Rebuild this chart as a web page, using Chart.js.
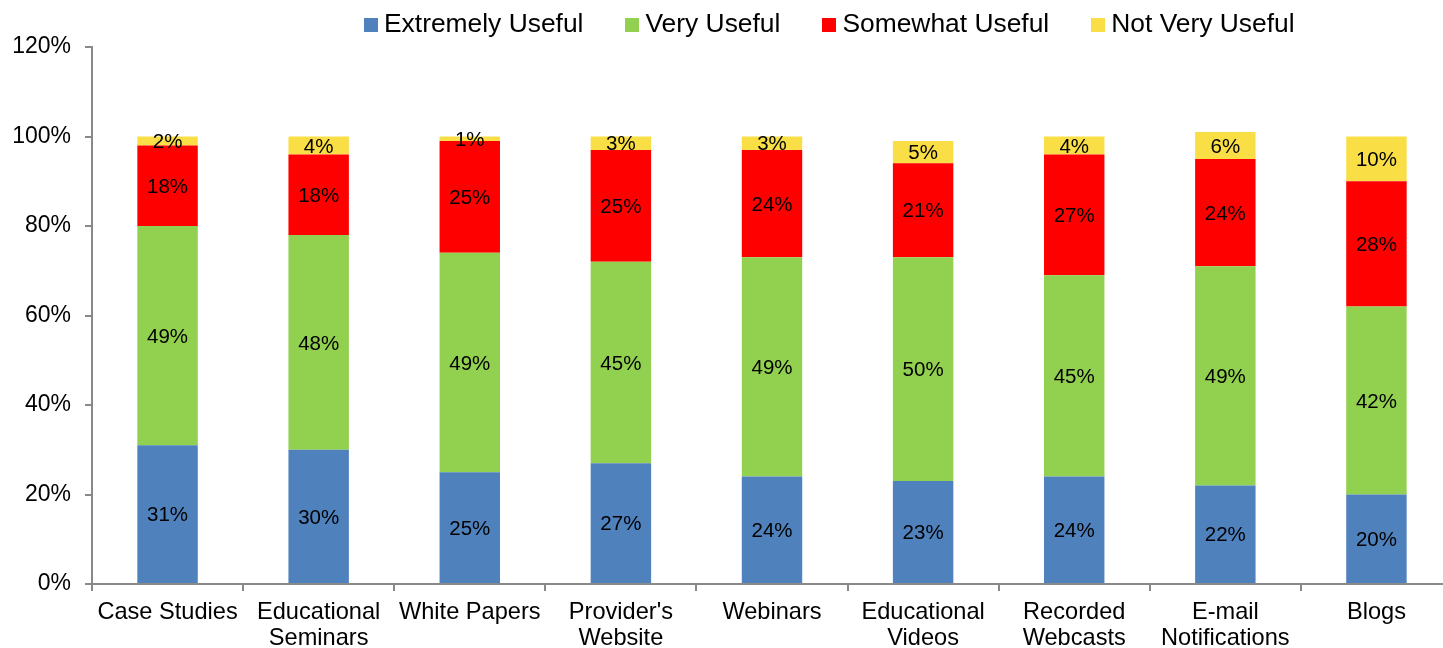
<!DOCTYPE html>
<html>
<head>
<meta charset="utf-8">
<title>Usefulness of content types</title>
<script src="https://cdn.jsdelivr.net/npm/chart.js@4.4.0/dist/chart.umd.min.js"></script>
<style>
  body { margin: 0; background: #fff; overflow: hidden; }
  #wrap { position: relative; width: 1443px; height: 648px; overflow: hidden; }
  #legend {
    position: absolute; left: 364px; top: 10px;
    font: 26.4px/26px "Liberation Sans", Arial, sans-serif;
    color: #000; white-space: nowrap;
  }
  #legend .item { margin-right: 42px; }
  #legend i { display: inline-block; width: 14px; height: 14px; margin-right: 6px; }
  canvas { position: absolute; left: 0; top: 0; }
</style>
</head>
<body>
<div id="wrap">
  <canvas id="usefulChart" width="1452" height="648"></canvas>
  <div id="legend"></div>
</div>
<script>
const categories = [
  ["Case Studies"], ["Educational", "Seminars"], ["White Papers"],
  ["Provider's", "Website"], ["Webinars"], ["Educational", "Videos"],
  ["Recorded", "Webcasts"], ["E-mail", "Notifications"], ["Blogs"]
];
const seriesNames = ["Extremely Useful", "Very Useful", "Somewhat Useful", "Not Very Useful"];
const extremelyUseful = [31, 30, 25, 27, 24, 23, 24, 22, 20];
const veryUseful = [49, 48, 49, 45, 49, 50, 45, 49, 42];
const somewhatUseful = [18, 18, 25, 25, 24, 21, 27, 24, 28];
const notVeryUseful = [2, 4, 1, 3, 3, 5, 4, 6, 10];
const yTickValues = [0, 20, 40, 60, 80, 100, 120];

const colors = ["#4F81BD", "#92D050", "#FF0000", "#F9DE46"];
const axisColor = "#898989";
const fontFamily = '"Liberation Sans", Arial, sans-serif';

// legend row above the plot
const legendEl = document.getElementById("legend");
seriesNames.forEach((name, i) => {
  const item = document.createElement("span");
  item.className = "item";
  const box = document.createElement("i");
  box.style.background = colors[i];
  item.appendChild(box);
  item.appendChild(document.createTextNode(name));
  legendEl.appendChild(item);
});

// writes each segment's percentage in the middle of its bar
const segmentLabels = {
  id: "segmentLabels",
  afterDatasetsDraw(chart) {
    const { ctx } = chart;
    ctx.save();
    ctx.font = "20.5px " + fontFamily;
    ctx.fillStyle = "#000";
    ctx.textAlign = "center";
    ctx.textBaseline = "middle";
    chart.data.datasets.forEach((ds, di) => {
      chart.getDatasetMeta(di).data.forEach((bar, i) => {
        ctx.fillText(ds.data[i] + "%", bar.x, (bar.y + bar.base) / 2 + 1.5);
      });
    });
    ctx.restore();
  },
};

const seriesData = [extremelyUseful, veryUseful, somewhatUseful, notVeryUseful];

new Chart(document.getElementById("usefulChart"), {
  type: "bar",
  data: {
    labels: categories,
    datasets: seriesNames.map((name, i) => ({
      label: name,
      data: seriesData[i],
      backgroundColor: colors[i],
      barPercentage: 0.4,
      categoryPercentage: 1,
    })),
  },
  options: {
    responsive: false,
    animation: false,
    devicePixelRatio: 1,
    layout: { padding: { top: 47, left: 0, right: 0, bottom: 0 } },
    scales: {
      x: {
        stacked: true,
        afterFit: (scale) => { scale.height = 64; },
        grid: {
          display: true,
          drawOnChartArea: false,
          drawTicks: true,
          tickLength: 7,
          color: axisColor,
          lineWidth: 2,
          offset: true,
        },
        border: { color: axisColor, width: 2 },
        ticks: {
          color: "#000",
          padding: 9,
          maxRotation: 0,
          autoSkip: false,
          font: { family: fontFamily, size: 23.6, lineHeight: 1.1 },
        },
      },
      y: {
        stacked: true,
        min: 0,
        max: 120,
        afterFit: (scale) => { scale.width = 92; },
        afterBuildTicks: (scale) => {
          scale.ticks = yTickValues.map((v) => ({ value: v }));
        },
        grid: {
          display: true,
          drawOnChartArea: false,
          drawTicks: true,
          tickLength: 7,
          color: axisColor,
          lineWidth: 2,
        },
        border: { color: axisColor, width: 2 },
        ticks: {
          color: "#000",
          padding: 14,
          font: { family: fontFamily, size: 23 },
          callback: (v) => v + "%",
        },
      },
    },
    plugins: {
      legend: { display: false },
      tooltip: { enabled: false },
    },
  },
  plugins: [segmentLabels],
});
</script>
</body>
</html>
